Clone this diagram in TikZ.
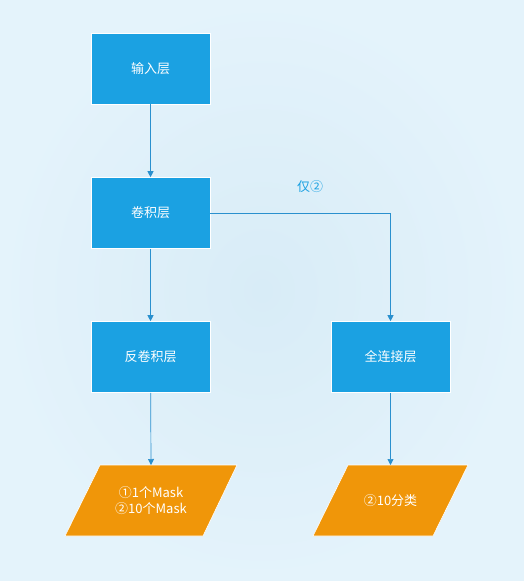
\documentclass[tikz,border=0pt]{standalone}
\usepackage{fontspec}
\setmainfont{Noto Sans CJK SC}
\usetikzlibrary{arrows.meta,shapes.geometric}
\definecolor{bgA}{HTML}{D8ECF7}
\definecolor{bgB}{HTML}{E4F3FB}
\definecolor{boxblue}{HTML}{1BA1E2}
\definecolor{lineblue}{HTML}{2A90CE}
\definecolor{orng}{HTML}{F09609}
\tikzset{
  layerbox/.style={draw=white, line width=0.6pt, fill=boxblue, text=white, minimum width=119pt, minimum height=71pt, inner sep=0pt, font=\fontsize{13}{15}\selectfont},
  outbox/.style={draw=white, line width=0.6pt, fill=orng},
  outtext/.style={text=white, font=\fontsize{13}{16}\selectfont, align=center, inner sep=0pt},
  conn/.style={draw=lineblue, line width=0.7pt, -{Triangle[width=6pt,length=6pt]}},
}
\begin{document}
\begin{tikzpicture}[x=1pt,y=-1pt]
\useasboundingbox (0,0) rectangle (524,581);
\shade[inner color=bgA, outer color=bgB] (0,0) rectangle (524,581);
\node[layerbox] (in) at (150.5,68.5) {输入层};
\node[layerbox] (conv) at (150.5,213) {卷积层};
\node[layerbox] (deconv) at (150.5,357) {反卷积层};
\node[layerbox] (fc) at (390.5,357) {全连接层};
\path[outbox] (100,465) -- (237,465) -- (203,536) -- (65,536) -- cycle;
\node[outtext] (mask) at (151,500.5) {①1个Mask\\②10个Mask};
\coordinate (maskTop) at (151,465);
\path[outbox] (348,465) -- (468,465) -- (433,536) -- (313,536) -- cycle;
\node[outtext] (cls) at (390.5,500.5) {②10分类};
\coordinate (clsTop) at (390.5,465);
\draw[conn] (in) -- (conv);
\draw[conn] (conv) -- (deconv);
\draw[conn] (deconv) -- (maskTop);
\draw[conn] (fc) -- (clsTop);
\draw[conn] (conv.east) -| (fc.north);
\node[text=boxblue, font=\fontsize{13}{15}\selectfont] (only) at (310,187) {仅②};
\end{tikzpicture}
\end{document}
